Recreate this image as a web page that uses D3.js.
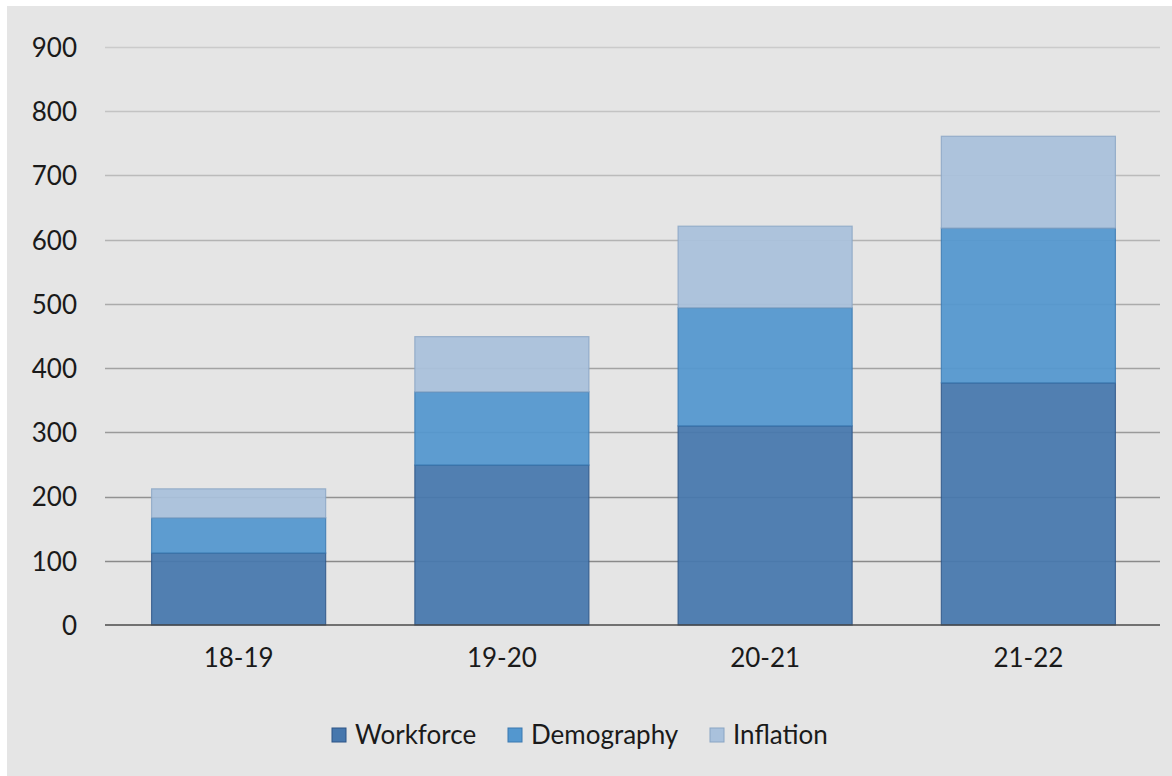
<!DOCTYPE html>
<html>
<head>
<meta charset="utf-8">
<script src="https://cdn.jsdelivr.net/npm/d3@7/dist/d3.min.js"></script>
<style>
  html, body { margin: 0; padding: 0; background: #ffffff; }
  svg { display: block; }
  text { font-family: Lato, "Open Sans", sans-serif; fill: #1a1a1a; }
</style>
</head>
<body>
<svg id="chart" width="1172" height="776"></svg>
<script>
// Fiscal years on the category axis
const years = ["18-19", "19-20", "20-21", "21-22"];
// Stacked components, bottom to top
const seriesNames = ["Workforce", "Demography", "Inflation"];
const workforce  = [112, 249, 310, 377];
const demography = [55, 114, 184, 241];
const inflation  = [45, 86, 127, 143];
// Value axis ticks
const yTicks = [0, 100, 200, 300, 400, 500, 600, 700, 800, 900];

const colors = {
  Workforce:  { fill: "#4677ad", stroke: "#2c5486" },
  Demography: { fill: "#5397cf", stroke: "#3a78b0" },
  Inflation:  { fill: "#a9c1dc", stroke: "#8aa5c4" }
};

const rows = years.map((y, i) => ({
  year: y,
  Workforce: workforce[i],
  Demography: demography[i],
  Inflation: inflation[i]
}));

const svg = d3.select("#chart");
const W = 1172, H = 776;

// chart area background, inset by a thin white margin on top and left
svg.append("rect")
  .attr("x", 7).attr("y", 6)
  .attr("width", W - 7).attr("height", H - 6)
  .attr("fill", "#e5e5e5");

const x = d3.scaleBand()
  .domain(years)
  .range([107, 1160])
  .paddingInner(0.335)
  .paddingOuter(0.1675);

const y = d3.scaleLinear()
  .domain([0, 900])
  .range([625, 47]);

// horizontal gridlines, slightly darker toward the baseline
const gridShade = d3.scaleLinear().domain([900, 100]).range(["#cbcbcb", "#8a8a8a"]);
svg.append("g")
  .selectAll("line")
  .data(yTicks.filter(t => t > 0))
  .join("line")
  .attr("x1", 105).attr("x2", 1160)
  .attr("y1", d => Math.round(y(d)) + 0.5)
  .attr("y2", d => Math.round(y(d)) + 0.5)
  .attr("stroke", d => gridShade(d))
  .attr("stroke-width", 1.3);

// y axis labels
const yAxis = d3.axisLeft(y).tickValues(yTicks).tickSize(0).tickPadding(0);
const gy = svg.append("g")
  .attr("transform", "translate(77,0)")
  .call(yAxis);
gy.select(".domain").remove();
gy.selectAll("text")
  .attr("font-size", 26)
  .attr("fill", "#1a1a1a")
  .attr("dy", "0.36em")
  .style("font-family", "Lato, 'Open Sans', sans-serif");

// stacked bars
const stack = d3.stack().keys(seriesNames);
const stacked = stack(rows);

svg.append("g")
  .selectAll("g")
  .data(stacked)
  .join("g")
  .each(function (layer) {
    const c = colors[layer.key];
    d3.select(this).selectAll("rect")
      .data(layer)
      .join("rect")
      .attr("x", d => x(d.data.year) + 0.5)
      .attr("width", x.bandwidth() - 1)
      .attr("y", d => y(d[1]))
      .attr("height", d => y(d[0]) - y(d[1]))
      .attr("fill", c.fill)
      .attr("fill-opacity", 0.93)
      .attr("stroke", c.stroke)
      .attr("stroke-opacity", 0.8)
      .attr("stroke-width", 1.2);
  });

// baseline / x axis
const xAxis = d3.axisBottom(x).tickSize(0).tickPadding(0);
const gx = svg.append("g")
  .attr("transform", `translate(0,${y(0)})`)
  .call(xAxis);
gx.select(".domain").remove();
gx.selectAll("text")
  .attr("font-size", 26)
  .attr("fill", "#1a1a1a")
  .attr("dy", "1.6em")
  .style("font-family", "Lato, 'Open Sans', sans-serif");

svg.append("line")
  .attr("x1", 105).attr("x2", 1160)
  .attr("y1", y(0)).attr("y2", y(0))
  .attr("stroke", "#4a4a4a")
  .attr("stroke-width", 1.6);

// legend
const legendX = [332, 508, 710];
const legend = svg.append("g");
seriesNames.forEach((name, i) => {
  const g = legend.append("g").attr("transform", `translate(${legendX[i]},728)`);
  g.append("rect")
    .attr("width", 14).attr("height", 14)
    .attr("fill", colors[name].fill)
    .attr("stroke", colors[name].stroke)
    .attr("stroke-width", 1);
  g.append("text")
    .attr("x", 23).attr("y", 7)
    .attr("dy", "0.36em")
    .attr("font-size", 26)
    .text(name);
});
</script>
</body>
</html>
